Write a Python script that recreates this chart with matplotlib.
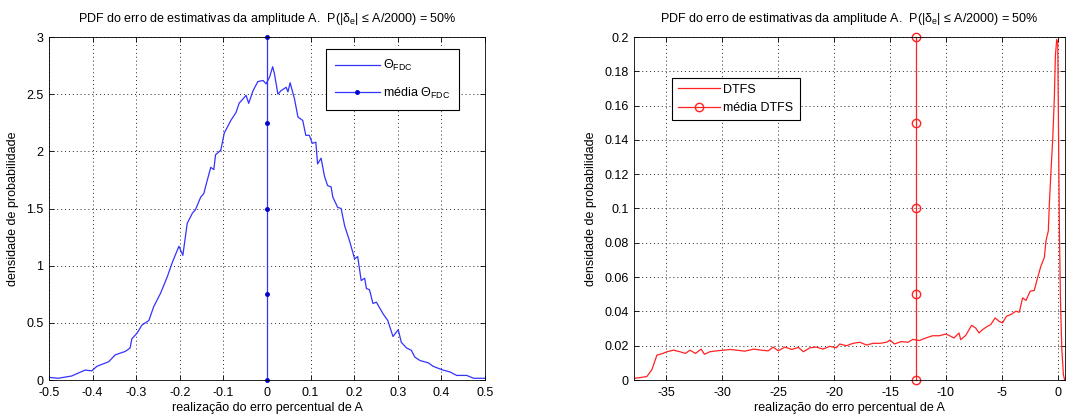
import numpy as np
import matplotlib
matplotlib.use('Agg')
import matplotlib.pyplot as plt
from matplotlib.ticker import FormatStrFormatter

plt.rcParams['font.family'] = ['Liberation Sans', 'DejaVu Sans']
plt.rcParams['font.size'] = 9
plt.rcParams['axes.unicode_minus'] = False
plt.rcParams['mathtext.fontset'] = 'custom'
plt.rcParams['mathtext.rm'] = 'Liberation Sans'
plt.rcParams['mathtext.it'] = 'Liberation Sans'

# curva FDC (esquerda)
x_fdc = [-0.5, -0.479, -0.448, -0.417, -0.402, -0.39, -0.363, -0.348, -0.325, -0.314,
         -0.31, -0.298, -0.287, -0.271, -0.26, -0.244, -0.229, -0.217, -0.202, -0.193,
         -0.183, -0.171, -0.164, -0.152, -0.145, -0.141, -0.129, -0.122, -0.118, -0.106,
         -0.098, -0.083, -0.071, -0.064, -0.048, -0.042, -0.032, -0.021, -0.009, -0.002,
         0.006, 0.013, 0.017, 0.025, 0.032, 0.040, 0.044, 0.048, 0.053, 0.063,
         0.071, 0.082, 0.089, 0.097, 0.104, 0.112, 0.116, 0.124, 0.132, 0.139,
         0.147, 0.151, 0.162, 0.17, 0.178, 0.189, 0.201, 0.208, 0.216, 0.224,
         0.228, 0.235, 0.243, 0.251, 0.266, 0.277, 0.289, 0.301, 0.308, 0.32,
         0.331, 0.339, 0.351, 0.37, 0.381, 0.401, 0.42, 0.435, 0.458, 0.474, 0.5]
y_fdc = [0.023, 0.015, 0.035, 0.087, 0.08, 0.12, 0.16, 0.22, 0.25, 0.28,
         0.36, 0.41, 0.48, 0.52, 0.64, 0.76, 0.90, 1.03, 1.17, 1.09,
         1.37, 1.46, 1.49, 1.60, 1.63, 1.69, 1.86, 1.84, 1.97, 2.01,
         2.16, 2.27, 2.34, 2.42, 2.49, 2.42, 2.53, 2.61, 2.62, 2.59,
         2.65, 2.74, 2.68, 2.50, 2.53, 2.55, 2.56, 2.52, 2.60, 2.46,
         2.30, 2.27, 2.14, 2.14, 2.07, 2.08, 1.89, 1.94, 1.78, 1.70,
         1.69, 1.60, 1.51, 1.50, 1.35, 1.22, 1.06, 1.08, 0.87, 0.89,
         0.80, 0.79, 0.67, 0.68, 0.58, 0.52, 0.38, 0.44, 0.33, 0.28,
         0.26, 0.20, 0.17, 0.15, 0.12, 0.09, 0.07, 0.04, 0.04, 0.015, 0.015]
media_fdc = 0.0
media_fdc_y = [0, 0.75, 1.5, 2.25, 3]

# curva DTFS (direita)
x_dtfs = [-37.8, -36.75, -36.3, -35.85, -35.4, -34.95, -34.36, -33.8, -33.3, -32.9,
          -32.4, -31.9, -31.6, -31.1, -30.5, -29.9, -29.3, -28.7, -28.0, -27.2,
          -26.5, -25.9, -25.45, -25.0, -24.4, -23.8, -23.2, -22.75, -22.15, -21.6,
          -21.0, -20.4, -19.8, -19.5, -18.9, -18.3, -17.7, -17.1, -16.5, -15.9,
          -15.3, -15.0, -14.6, -14.0, -13.4, -12.96, -12.37, -11.8, -11.2, -10.6,
          -10.0, -9.73, -9.28, -8.83, -8.68, -8.23, -7.7, -7.34, -7.04, -6.74,
          -6.29, -5.99, -5.6, -5.24, -4.94, -4.58, -4.19, -3.74, -3.44, -3.14,
          -2.84, -2.46, -2.1, -1.8, -1.5, -1.2, -1.05, -0.84, -0.75, -0.6,
          -0.45, -0.3, -0.21, -0.09, 0.0, 0.06, 0.15, 0.24, 0.36, 0.51, 0.62]
y_dtfs = [0.001, 0.002, 0.006, 0.0145, 0.0153, 0.0165, 0.0174, 0.0165, 0.0155, 0.0174,
          0.0155, 0.018, 0.015, 0.0165, 0.017, 0.0174, 0.0178, 0.0174, 0.0168, 0.018,
          0.0174, 0.017, 0.0192, 0.017, 0.0192, 0.0178, 0.019, 0.0165, 0.0188, 0.0192,
          0.018, 0.0196, 0.0188, 0.021, 0.020, 0.0214, 0.022, 0.0204, 0.0214, 0.0214,
          0.022, 0.0233, 0.021, 0.0224, 0.022, 0.0237, 0.023, 0.0245, 0.0258, 0.0258,
          0.0268, 0.026, 0.0245, 0.0274, 0.0235, 0.026, 0.0319, 0.0303, 0.0274, 0.0293,
          0.0313, 0.0323, 0.0362, 0.0342, 0.0333, 0.0372, 0.0382, 0.0401, 0.0395, 0.0479,
          0.0464, 0.0518, 0.0522, 0.0597, 0.0665, 0.0714, 0.0812, 0.087, 0.1027, 0.1223,
          0.14, 0.165, 0.189, 0.1986, 0.197, 0.153, 0.087, 0.048, 0.0186, 0.003, 0.0]
media_dtfs = -12.66
media_dtfs_y = [0, 0.05, 0.1, 0.15, 0.2]

ticks_x_fdc = [-0.5, -0.4, -0.3, -0.2, -0.1, 0, 0.1, 0.2, 0.3, 0.4, 0.5]
ticks_y_fdc = [0, 0.5, 1, 1.5, 2, 2.5, 3]
ticks_x_dtfs = [-35, -30, -25, -20, -15, -10, -5, 0]
ticks_y_dtfs = [0, 0.02, 0.04, 0.06, 0.08, 0.1, 0.12, 0.14, 0.16, 0.18, 0.2]

titulo = r'PDF do erro de estimativas da amplitude A.  P(|δ$_{\mathregular{e}}$| ≤ A/2000) = 50%'


def estilo(ax):
    ax.grid(True, linestyle=(0, (1, 3)), color='0.15', linewidth=0.7)
    ax.tick_params(direction='in', top=True, right=True, length=3.5, width=0.6,
                   labelsize=9)
    ax.tick_params(axis='x', pad=5)
    ax.tick_params(axis='y', pad=4)
    for s in ax.spines.values():
        s.set_linewidth(0.6)
    ax.set_xlabel('realização do erro percentual de A', fontsize=9, labelpad=2)
    ax.set_ylabel('densidade de probabilidade', fontsize=9, labelpad=5)
    ax.set_title(titulo, fontsize=9, pad=11)
    ax.yaxis.set_major_formatter(FormatStrFormatter('%g'))
    ax.xaxis.set_major_formatter(FormatStrFormatter('%g'))


fig = plt.figure(figsize=(10.67, 4.19), dpi=100, facecolor='w')

ax1 = fig.add_axes([49/1067, 39/419, 436/1067, 343/419])
ax1.plot(x_fdc, y_fdc, color='#3333ff', lw=0.9, label='Θ$_{\\mathregular{FDC}}$')
ax1.plot([media_fdc]*len(media_fdc_y), media_fdc_y, color='#3333ff', lw=0.9,
         marker='.', markersize=5, markerfacecolor='#0000cc', markeredgecolor='#0000cc',
         label='média Θ$_{\\mathregular{FDC}}$', clip_on=False)
ax1.set_xlim(-0.5, 0.5)
ax1.set_ylim(0, 3)
ax1.set_xticks(ticks_x_fdc)
ax1.set_yticks(ticks_y_fdc)
estilo(ax1)
leg1 = ax1.legend(loc='upper right', bbox_to_anchor=(0.955, 0.982), fontsize=9,
                  fancybox=False, edgecolor='k', framealpha=1, handlelength=3.6,
                  handletextpad=0.3, borderpad=0.7, labelspacing=1.0)
leg1.get_frame().set_linewidth(0.8)

ax2 = fig.add_axes([634/1067, 39/419, 431/1067, 343/419])
ax2.plot(x_dtfs, y_dtfs, color='#ff2222', lw=0.9, label='DTFS')
ax2.plot([media_dtfs]*len(media_dtfs_y), media_dtfs_y, color='#ff2222', lw=0.9,
         marker='o', markersize=6, markerfacecolor='none', markeredgecolor='#ff2222',
         label='média DTFS', clip_on=False)
ax2.set_xlim(-37.9, 0.65)
ax2.set_ylim(0, 0.2)
ax2.set_xticks(ticks_x_dtfs)
ax2.set_yticks(ticks_y_dtfs)
estilo(ax2)
leg2 = ax2.legend(loc='upper left', bbox_to_anchor=(0.074, 0.90), fontsize=9,
                  fancybox=False, edgecolor='k', framealpha=1, handlelength=3.3,
                  handletextpad=0.3, borderpad=0.5, labelspacing=0.5)
leg2.get_frame().set_linewidth(0.8)

plt.savefig('out.png', dpi=100, facecolor='w')
